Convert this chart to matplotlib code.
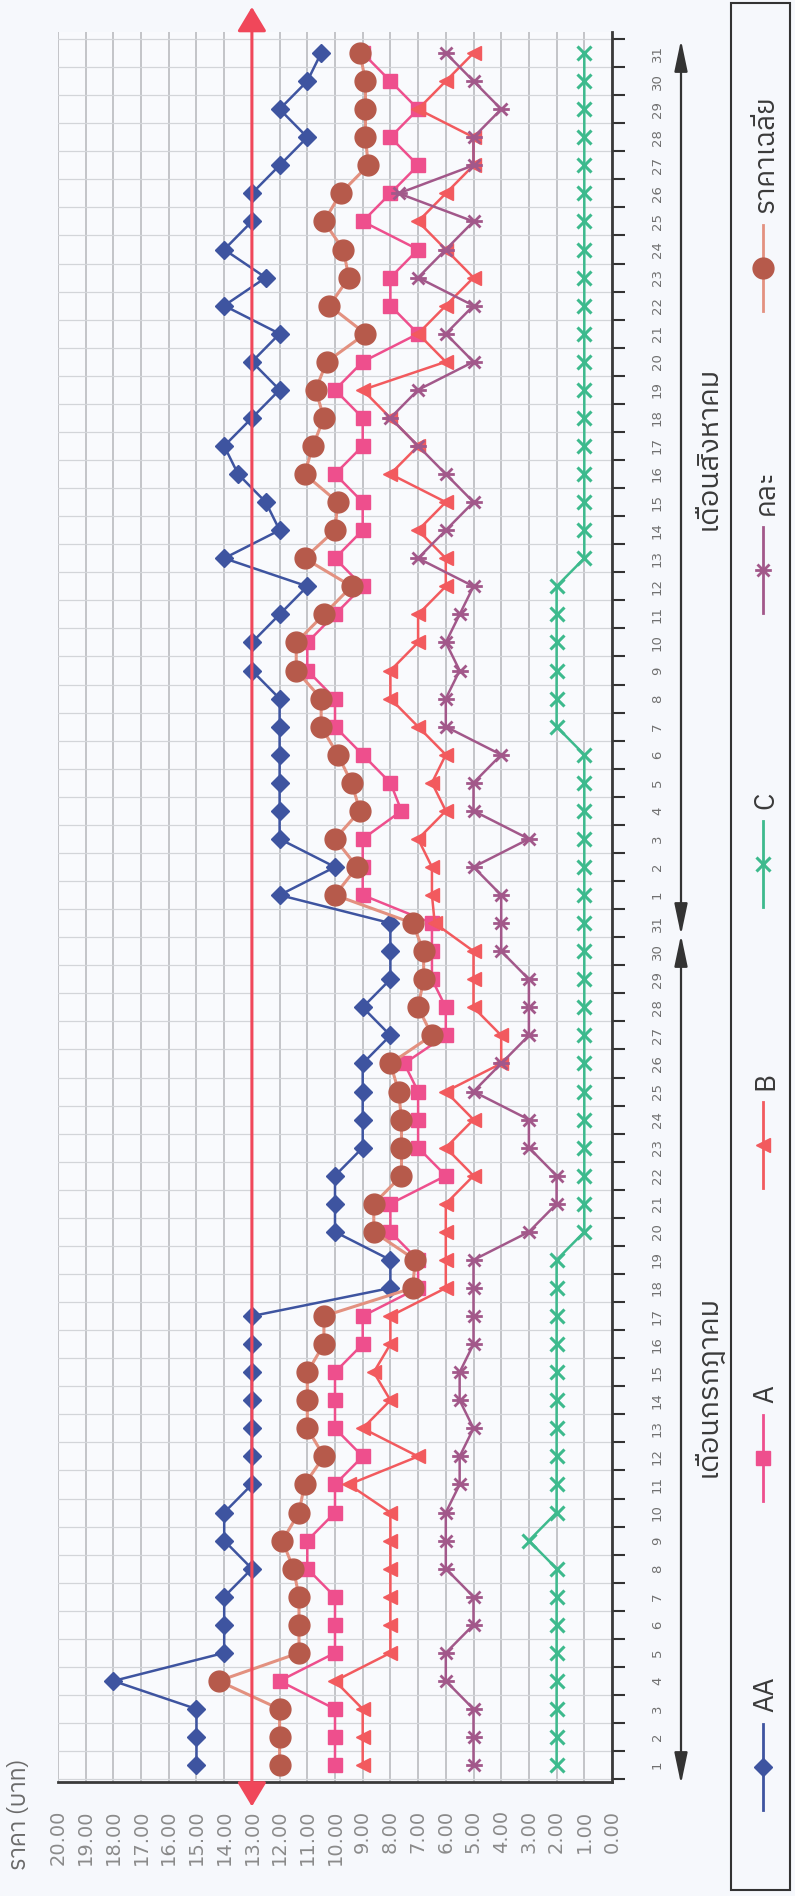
import matplotlib
matplotlib.use("Agg")
import matplotlib.pyplot as plt
from matplotlib import font_manager
from matplotlib.ft2font import FT2Font
from matplotlib.path import Path
from matplotlib.lines import Line2D
from matplotlib.patches import Rectangle, FancyArrowPatch
import numpy as np

# ---------------- data ----------------
day_labels = ([str(d) for d in range(1, 32)] + [str(d) for d in range(1, 32)])
price_ticks = [0, 1, 2, 3, 4, 5, 6, 7, 8, 9, 10, 11, 12, 13, 14, 15, 16, 17, 18, 19, 20]

price_aa = [15, 15, 15, 18, 14, 14, 14, 13, 14, 14, 13, 13, 13, 13, 13, 13, 13, 8, 8, 10,
            10, 10, 9, 9, 9, 9, 8, 9, 8, 8, 8,
            12, 10, 12, 12, 12, 12, 12, 12, 13, 13, 12, 11, 14, 12, 12.5, 13.5, 14, 13, 12, 13,
            12, 14, 12.5, 14, 13, 13, 12, 11, 12, 11, 10.5]
price_a = [10, 10, 10, 12, 10, 10, 10, 11, 11, 10, 10, 9, 10, 10, 10, 9, 9, 7, 7, 8,
           8, 6, 7, 7, 7, 7.5, 6, 6, 6.5, 6.5, 6.5,
           9, 9, 9, 7.6, 8, 9, 10, 10, 11, 11, 10, 9, 10, 9, 9, 10, 9, 9, 10, 9,
           7, 8, 8, 7, 9, 8, 7, 8, 7, 8, 9]
price_b = [9, 9, 9, 10, 8, 8, 8, 8, 8, 8, 9.5, 7, 9, 8, 8.6, 8, 8, 6, 6, 6,
           6, 5, 6, 5, 6, 4, 4, 5, 5, 5, 6.4,
           6.5, 6.5, 7, 6, 6.5, 6, 7, 8, 8, 7, 7, 6, 6, 7, 6, 8, 7, 8, 9, 6,
           7, 6, 5, 6, 7, 6, 5, 5, 7, 6, 5]
price_c = [2, 2, 2, 2, 2, 2, 2, 2, 3, 2, 2, 2, 2, 2, 2, 2, 2, 2, 2, 1,
           1, 1, 1, 1, 1, 1, 1, 1, 1, 1, 1,
           1, 1, 1, 1, 1, 1, 2, 2, 2, 2, 2, 2, 1, 1, 1, 1, 1, 1, 1, 1,
           1, 1, 1, 1, 1, 1, 1, 1, 1, 1, 1]
price_mix = [5, 5, 5, 6, 6, 5, 5, 6, 6, 6, 5.5, 5.5, 5, 5.5, 5.5, 5, 5, 5, 5, 3,
             2, 2, 3, 3, 5, 4, 3, 3, 3, 4, 4,
             4, 5, 3, 5, 5, 4, 6, 6, 5.5, 6, 5.5, 5, 7, 6, 5, 6, 7, 8, 7, 5,
             6, 5, 7, 6, 5, 7.7, 5, 5, 4, 5, 6]
price_avg = [12, 12, 12, 14.2, 11.3, 11.3, 11.3, 11.5, 11.9, 11.3, 11.1, 10.4, 11, 11, 11,
             10.4, 10.4, 7.2, 7.1, 8.6, 8.6, 7.6, 7.6, 7.6, 7.7, 8.0, 6.5, 7.0, 6.8, 6.8, 7.2,
             10, 9.2, 10, 9.1, 9.4, 9.9, 10.5, 10.5, 11.4, 11.4, 10.4, 9.4, 11.1, 10, 9.9, 11.1,
             10.8, 10.4, 10.7, 10.3, 8.9, 10.2, 9.5, 9.7, 10.4, 9.8, 8.8, 8.9, 8.9, 8.9, 9.1]
target_price = 13.0

series_names = ["AA", "A", "B", "C", "คละ", "ราคาเฉลี่ย"]
month_names = ["เดือนกรกฎาคม", "เดือนสิงหาคม"]
axis_title = "ราคา (บาท)"


# ---------------- fonts ----------------
def find_thai_font():
    names = []
    for f in font_manager.fontManager.ttflist:
        try:
            cmap = FT2Font(f.fname).get_charmap()
        except Exception:
            continue
        if ord("ร") in cmap and ord("ฉ") in cmap:
            names.append(f.name)
    names.sort(key=lambda n: (0 if "Sans" in n else 1, n))
    return names[0] if names else None


thai = find_thai_font()
families = ([thai] if thai else []) + ["DejaVu Sans"]
plt.rcParams["font.family"] = families

# ---------------- colours ----------------
col_aa = "#3e54a0"
col_a = "#ee4f8d"
col_b = "#f25a5e"
col_c = "#3dba8d"
col_mix = "#a2588a"
col_avg_face = "#b65a4b"
col_avg_line = "#e39180"
col_target = "#f0475a"

# asterisk marker: horizontal bar with two diagonals
star = Path([(-1, 0), (1, 0), (-0.72, -0.72), (0.72, 0.72), (-0.72, 0.72), (0.72, -0.72)],
            [Path.MOVETO, Path.LINETO, Path.MOVETO, Path.LINETO, Path.MOVETO, Path.LINETO])

# ---------------- figure ----------------
W, H = 795, 1896
fig = plt.figure(figsize=(W / 100, H / 100), dpi=100)
fig.patch.set_facecolor("#f6f8fc")


def fx(px):
    return px / W


def fy(py):
    return 1 - py / H


ax = fig.add_axes([fx(58), fy(1782), fx(612) - fx(58), fy(32) - fy(1782)])
ax.set_facecolor("#f9fafd")

pos = np.arange(1, len(day_labels) + 1)
ax.set_xlim(20, 0)
ax.set_ylim(0.4, 62.75)

# grid
ax.set_xticks(price_ticks)
ax.set_xticklabels([f"{v:.2f}" for v in price_ticks], rotation=90, fontsize=14,
                   color="#8a8a8a", family="DejaVu Sans")
ax.tick_params(axis="x", length=0, pad=20)
ax.grid(axis="x", which="major", color="#b4b6ba", lw=1.1, zorder=0)

ax.yaxis.tick_right()
ax.set_yticks(pos)
ax.set_yticklabels(day_labels, rotation=90, fontsize=9.5, color="#707070", va="center",
                   family="DejaVu Sans")
ax.set_yticks(np.arange(0.5, 63, 1), minor=True)
ax.tick_params(axis="y", which="major", length=0, pad=28)
ax.tick_params(axis="y", which="minor", length=9, width=1.5, color="#333333",
               direction="out", right=True, left=False)
ax.grid(axis="y", which="minor", color="#d3d5d9", lw=0.9, zorder=0)
ax.set_axisbelow(True)

for side in ("left", "top"):
    ax.spines[side].set_visible(False)
for side in ("bottom", "right"):
    ax.spines[side].set_color("#3a3a3a")
    ax.spines[side].set_linewidth(2)

# series
ax.plot(price_aa, pos, color=col_aa, lw=1.8, marker="D", ms=9, mfc=col_aa, mec=col_aa, zorder=3)
ax.plot(price_a, pos, color=col_a, lw=1.8, marker="s", ms=10, mfc=col_a, mec=col_a, zorder=4)
ax.plot(price_b, pos, color=col_b, lw=1.8, marker="<", ms=10, mfc=col_b, mec=col_b, zorder=5)
ax.plot(price_c, pos, color=col_c, lw=1.8, marker="x", ms=10, mew=2.2, mec=col_c, zorder=6)
ax.plot(price_mix, pos, color=col_mix, lw=1.8, marker=star, ms=12, mew=2, mec=col_mix, zorder=7)
ax.plot(price_avg, pos, color=col_avg_line, lw=2.2, marker="o", ms=15, mfc=col_avg_face,
        mec=col_avg_face, zorder=8)

# target price line with arrow heads at both ends
ax.annotate("", xy=(target_price, 1.0143), xytext=(target_price, -0.014),
            xycoords=("data", "axes fraction"), textcoords=("data", "axes fraction"),
            arrowprops=dict(arrowstyle="<|-|>,head_length=0.75,head_width=0.45",
                            mutation_scale=20, color=col_target, lw=2.2,
                            shrinkA=0, shrinkB=0),
            annotation_clip=False, zorder=9)

# axis title
fig.text(fx(20), fy(1870), axis_title, rotation=90, ha="center", va="bottom",
         fontsize=17, color="#6a6a6a")

# month labels with span arrows
fig.text(fx(708), fy(1386), month_names[0], rotation=90, ha="center", va="center",
         fontsize=21, color="#3a3a3a")
fig.text(fx(708), fy(448), month_names[1], rotation=90, ha="center", va="center",
         fontsize=21, color="#3a3a3a")
for y0, y1 in ((935, 1784), (935, 40)):
    fig.add_artist(FancyArrowPatch((fx(681), fy(y0)), (fx(681), fy(y1)),
                                   transform=fig.transFigure,
                                   arrowstyle="<|-|>,head_length=0.95,head_width=0.2",
                                   mutation_scale=20, color="#333333", lw=1.6,
                                   shrinkA=0, shrinkB=0))

# legend box
fig.add_artist(Rectangle((fx(731), fy(1890)), fx(790) - fx(731), fy(3) - fy(1890),
                         transform=fig.transFigure, fill=False, ec="#333333", lw=1.5))
legend_style = [
    dict(color=col_aa, marker="D", ms=9, mfc=col_aa, mec=col_aa),
    dict(color=col_a, marker="s", ms=10, mfc=col_a, mec=col_a),
    dict(color=col_b, marker="<", ms=10, mfc=col_b, mec=col_b),
    dict(color=col_c, marker="x", ms=10, mew=2.2, mec=col_c),
    dict(color=col_mix, marker=star, ms=12, mew=2, mec=col_mix),
    dict(color=col_avg_line, marker="o", ms=15, mfc=col_avg_face, mec=col_avg_face),
]
legend_marker_y = [1767, 1458, 1145, 864, 570, 268]
for name, style, my in zip(series_names, legend_style, legend_marker_y):
    fig.add_artist(Line2D([fx(763), fx(763)], [fy(my + 43), fy(my - 43)],
                          transform=fig.transFigure, lw=2, color=style["color"]))
    mstyle = {k: v for k, v in style.items() if k != "color"}
    fig.add_artist(Line2D([fx(763)], [fy(my)], transform=fig.transFigure, ls="none",
                          **mstyle))
    fig.text(fx(766), fy(my - 55), name, rotation=90, ha="center", va="bottom",
             fontsize=20, color="#3a3a3a")

fig.savefig("out.png", dpi=100, facecolor=fig.get_facecolor())
